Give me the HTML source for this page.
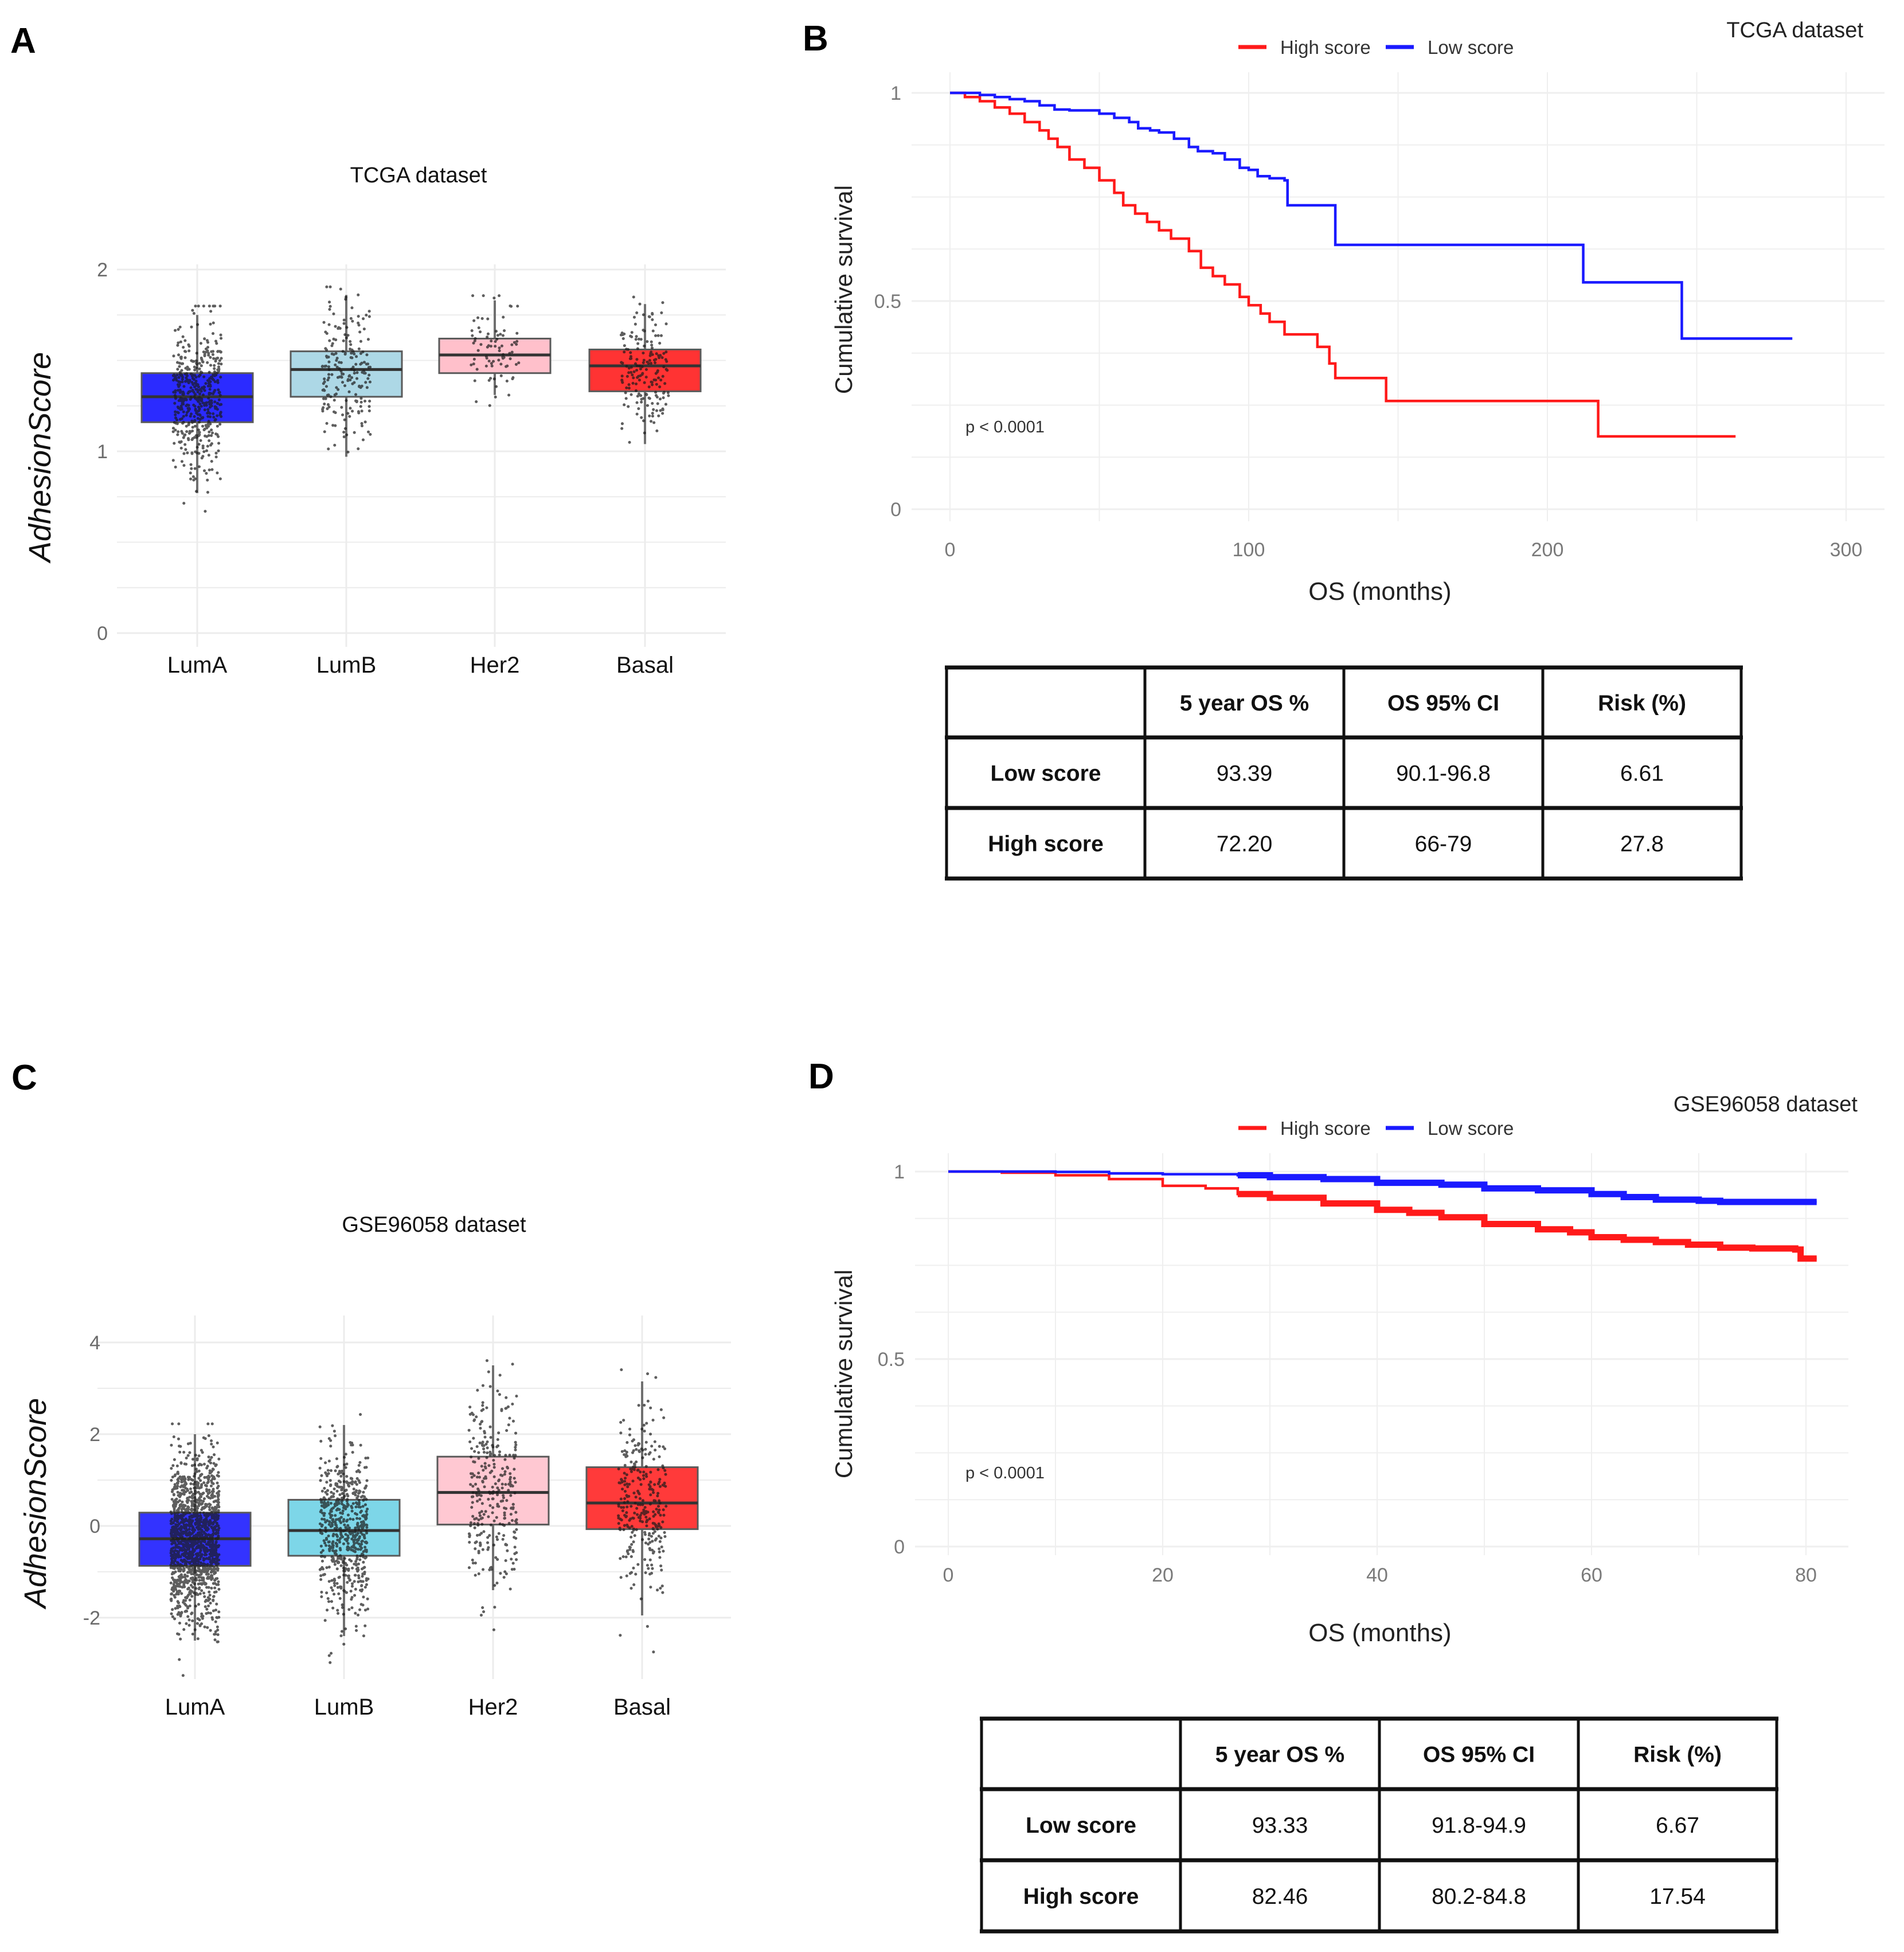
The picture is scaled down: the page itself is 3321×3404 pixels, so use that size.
<!DOCTYPE html>
<html><head><meta charset="utf-8">
<style>
html,body{margin:0;padding:0;background:#fff;}
svg{display:block;font-family:"Liberation Sans",sans-serif;}
</style></head>
<body>
<svg id="fig" xmlns="http://www.w3.org/2000/svg" width="3321" height="3404" viewBox="0 0 3321 3404">
<rect x="0" y="0" width="3321" height="3404" fill="#fff"/>
<text x="18" y="92" font-size="62" font-weight="bold">A</text>
<text x="1400" y="88" font-size="62" font-weight="bold">B</text>
<text x="20" y="1900" font-size="62" font-weight="bold">C</text>
<text x="1410" y="1898" font-size="62" font-weight="bold">D</text>
<g id="gA"></g>
<g id="gC"></g>
<g id="gB"></g>
<g id="gD"></g>
<g id="tB"></g>
<g id="tD"></g>
</svg>
<script>
// ---- Panel A data (TCGA boxplot)
const catsA = ["LumA","LumB","Her2","Basal"];
const q1A = [1.16,1.30,1.43,1.33];
const medA = [1.30,1.45,1.53,1.47];
const q3A = [1.43,1.55,1.62,1.56];
const loA = [0.77,0.97,1.31,1.04];
const hiA = [1.75,1.86,1.83,1.81];
const nA = [500,200,80,180];
const yTicksA = [0,1,2];
// ---- Panel C data (GSE96058 boxplot)
const catsC = ["LumA","LumB","Her2","Basal"];
const q1C = [-0.87,-0.65,0.03,-0.07];
const medC = [-0.28,-0.10,0.73,0.50];
const q3C = [0.29,0.57,1.51,1.28];
const loC = [-2.5,-2.4,-1.4,-1.95];
const hiC = [2.0,2.2,3.5,3.15];
const nC = [1400,600,300,300];
const yTicksC = [-2,0,2,4];
// ---- Panel B data (TCGA KM)
const timeHighB = [0,5,10,15,20,25,30,33,36,40,45,50,55,58,62,66,70,74,80,84,88,92,97,100,104,107,112,118,123,127,129,146,217];
const survHighB = [1,0.99,0.98,0.965,0.95,0.93,0.91,0.89,0.87,0.84,0.82,0.79,0.76,0.73,0.71,0.69,0.67,0.65,0.62,0.58,0.56,0.54,0.51,0.49,0.47,0.45,0.42,0.42,0.39,0.35,0.315,0.26,0.175];
const endHighB = 263;
const timeLowB = [0,10,15,20,25,30,35,40,50,55,60,63,67,70,75,80,83,88,92,97,100,103,107,112,113,129,212,245];
const survLowB = [1,0.995,0.99,0.985,0.98,0.97,0.96,0.958,0.95,0.94,0.93,0.915,0.91,0.905,0.89,0.87,0.86,0.855,0.84,0.82,0.815,0.80,0.795,0.79,0.73,0.635,0.545,0.41];
const endLowB = 282;
const xTicksB = [0,100,200,300];
const yTicksB = [0,0.5,1];
// ---- Panel D data (GSE96058 KM)
const timeHighD = [0,5,10,15,20,24,27,30,35,40,43,46,50,55,58,60,63,66,69,72,75,79,79.5];
const survHighD = [1,0.997,0.99,0.98,0.962,0.955,0.94,0.93,0.915,0.898,0.89,0.878,0.86,0.846,0.838,0.825,0.818,0.812,0.805,0.797,0.795,0.792,0.768];
const endHighD = 81;
const timeLowD = [0,10,15,20,27,30,35,40,46,50,55,60,63,66,70,72];
const survLowD = [1,0.999,0.995,0.993,0.99,0.985,0.98,0.97,0.965,0.955,0.95,0.94,0.932,0.925,0.922,0.919];
const endLowD = 81;
const censorStartD = 27;
const xTicksD = [0,20,40,60,80];
const yTicksD = [0,0.5,1];
// ---- Tables
const tableHeader = ["","5 year OS %","OS 95% CI","Risk (%)"];
const rowNames = ["Low score","High score"];
const tableB = [["93.39","90.1-96.8","6.61"],["72.20","66-79","27.8"]];
const tableD = [["93.33","91.8-94.9","6.67"],["82.46","80.2-84.8","17.54"]];

const NS="http://www.w3.org/2000/svg";
function mk(parent,tag,attrs,text){const e=document.createElementNS(NS,tag);for(const k in attrs)e.setAttribute(k,attrs[k]);if(text!==undefined)e.textContent=text;parent.appendChild(e);return e;}

// seeded jitter generator (visual texture only)
function rng(seed){return function(){seed|=0;seed=seed+0x6D2B79F5|0;let t=Math.imul(seed^seed>>>15,1|seed);t=t+Math.imul(t^t>>>7,61|t)^t;return((t^t>>>14)>>>0)/4294967296;};}

function boxPlot(g,o){
  const y=v=>o.y0-o.ppu*v;
  for(let v=o.gmin;v<=o.gmax+1e-9;v+=o.gstep){
    const major=o.ticks.some(t=>Math.abs(t-v)<1e-9);
    const l=mk(g,'line',{x1:o.left,x2:o.right,y1:y(v),y2:y(v),stroke:'#ececec','stroke-width':major?3:2});
    
    
  }
  o.cats.forEach((c,i)=>{
    const l=mk(g,'line',{x1:o.cx[i],x2:o.cx[i],y1:o.top,y2:o.bottom,stroke:'#ececec','stroke-width':3});
    
    
  });
  o.ticks.forEach(t=>{
    const e=mk(g,'text',{x:o.tickX,y:y(t)+12,'font-size':34,fill:'#6b6b6b','text-anchor':'end'},String(t));
    
    
  });
  const R=rng(o.seed);
  o.cats.forEach((c,i)=>{
    const cx=o.cx[i];
    const w=mk(g,'line',{x1:cx,x2:cx,y1:y(o.hi[i]),y2:y(o.lo[i]),stroke:'#707070','stroke-width':4});
    
    
    const b=mk(g,'rect',{x:cx-o.hw,y:y(o.q3[i]),width:2*o.hw,height:y(o.q1[i])-y(o.q3[i]),fill:o.colors[i],stroke:'#5a5a5a','stroke-width':3});
    
    
    const m=mk(g,'line',{x1:cx-o.hw,x2:cx+o.hw,y1:y(o.med[i]),y2:y(o.med[i]),stroke:'#333','stroke-width':5});
    
    
    const sd=(o.q3[i]-o.q1[i])/1.35;
    let d='';
    for(let k=0;k<o.n[i];k++){
      let u=Math.max(1e-6,R()),v2=R();
      let z=Math.sqrt(-2*Math.log(u))*Math.cos(2*Math.PI*v2);
      let val=o.med[i]+z*sd;
      val=Math.min(o.hi[i]+0.05*(o.hi[i]-o.lo[i]),Math.max(o.lo[i]-(o.hi[i]-o.lo[i])*0.3,val));
      const px=cx+(R()*2-1)*o.jit, py=y(val);
      d+='M'+px.toFixed(1)+' '+py.toFixed(1)+'h0.1';
    }
    const p=mk(g,'path',{d:d,stroke:'#1a1a1a','stroke-width':5,'stroke-linecap':'round',fill:'none',opacity:0.7});
    
    
    const t=mk(g,'text',{x:cx,y:o.catY,'font-size':40,'text-anchor':'middle',fill:'#111'},c);
    
    
  });
  const tt=mk(g,'text',{x:o.titleX,y:o.titleY,'font-size':38,'text-anchor':'middle',fill:'#111'},o.title);
  
  
  const yt=mk(g,'text',{x:0,y:0,'font-size':54,'font-style':'italic','text-anchor':'middle',fill:'#111',transform:'translate('+(o.ytX)+','+o.ytY+') rotate(-90)'},'AdhesionScore');
  
  
}

boxPlot(document.getElementById('gA'),{cats:catsA,q1:q1A,med:medA,q3:q3A,lo:loA,hi:hiA,n:nA,ticks:yTicksA,
  y0:1104,ppu:317,gmin:0,gmax:2,gstep:0.25,left:204,right:1266,top:461,bottom:1128,cx:[344,604,863,1125],hw:97,jit:42,
  colors:['#2b2bff','#add8e6','#ffc0cb','#ff3333'],tickX:188,catY:1173,title:'TCGA dataset',titleX:730,titleY:318,ytX:88,ytY:797,seed:7});
boxPlot(document.getElementById('gC'),{cats:catsC,q1:q1C,med:medC,q3:q3C,lo:loC,hi:hiC,n:nC,ticks:yTicksC,
  y0:2661,ppu:80,gmin:-2,gmax:4,gstep:1,left:170,right:1275,top:2294,bottom:2928,cx:[340,600,860,1120],hw:97,jit:42,
  colors:['#3333ff','#7dd6e8','#ffc8d2','#ff3a3a'],tickX:175,catY:2990,title:'GSE96058 dataset',titleX:757,titleY:2148,ytX:80,ytY:2621,seed:11});

function km(g,o){
  const x=t=>o.x0+o.ppx*t, y=s=>o.y0-o.ppy*s;
  for(let v=0;v<=1.0001;v+=0.125){
    const l=mk(g,'line',{x1:o.left,x2:o.right,y1:y(v),y2:y(v),stroke:'#efefef','stroke-width':(Math.abs(v*2-Math.round(v*2))<1e-9)?3:2});
    
    
  }
  for(let t=0;t<=o.xmaxGrid+1e-9;t+=o.vstep){
    const l=mk(g,'line',{x1:x(t),x2:x(t),y1:o.top,y2:o.bottom,stroke:'#efefef','stroke-width':2});
    
    
  }
  o.yt.forEach(v=>{
    const e=mk(g,'text',{x:o.left-18,y:y(v)+12,'font-size':34,fill:'#7a7a7a','text-anchor':'end'},String(v));
    
    
  });
  o.xt.forEach(v=>{
    const e=mk(g,'text',{x:x(v),y:o.xtY,'font-size':34,fill:'#7a7a7a','text-anchor':'middle'},String(v));
    
    
  });
  function path(ts,ss,end,from){
    let d='',started=false;
    for(let i=0;i<ts.length;i++){
      if(ts[i]<from&&!(i+1<ts.length&&ts[i+1]>from))continue;
      const tt=Math.max(ts[i],from);
      if(!started){d='M'+x(tt)+' '+y(ss[i]);started=true;}
      else d+=' H'+x(ts[i])+' V'+y(ss[i]);
    }
    d+=' H'+x(end);return d;
  }
  o.series.forEach(s=>{
    const p=mk(g,'path',{d:path(s.t,s.s,s.end,0),stroke:s.color,'stroke-width':o.sw,fill:'none'});
    
    
    if(o.censor!==undefined){
      const c=mk(g,'path',{d:path(s.t,s.s,s.end,o.censor),stroke:s.color,'stroke-width':11,fill:'none'});
      
      
    }
  });
  const items=[['High score','#ff1a1a',2160],['Low score','#1a1aff',2417]];
  items.forEach(it=>{
    const l=mk(g,'line',{x1:it[2],x2:it[2]+49,y1:o.legY,y2:o.legY,stroke:it[1],'stroke-width':7});
    
    
    const t=mk(g,'text',{x:it[2]+73,y:o.legY+12,'font-size':33,fill:'#333'},it[0]);
    
    
  });
  const tt=mk(g,'text',{x:o.titleR,y:o.titleY,'font-size':38,'text-anchor':'end',fill:'#222'},o.title);
  
  
  const pv=mk(g,'text',{x:1684,y:o.pY,'font-size':29,fill:'#333'},'p < 0.0001');
  
  
  const xt=mk(g,'text',{x:2407,y:o.xTitleY,'font-size':44,'text-anchor':'middle',fill:'#222'},'OS (months)');
  
  
  const yt=mk(g,'text',{x:0,y:0,'font-size':42,'text-anchor':'middle',fill:'#222',transform:'translate(1486,'+o.ytY+') rotate(-90)'},'Cumulative survival');
  
  
}
km(document.getElementById('gB'),{x0:1657,ppx:5.21,y0:888,ppy:726,left:1590,right:3287,top:126,bottom:909,xmaxGrid:310,vstep:50,
  xt:xTicksB,yt:yTicksB,xtY:970,sw:4.5,legY:82,titleR:3250,titleY:65,title:'TCGA dataset',pY:754,xTitleY:1046,ytY:505,
  series:[{key:'high-score',t:timeHighB,s:survHighB,end:endHighB,color:'#ff1a1a'},{key:'low-score',t:timeLowB,s:survLowB,end:endLowB,color:'#1a1aff'}]});
km(document.getElementById('gD'),{x0:1654,ppx:18.7,y0:2697,ppy:654,left:1596,right:3224,top:2011,bottom:2712,xmaxGrid:85,vstep:10,
  xt:xTicksD,yt:yTicksD,xtY:2758,sw:4.5,legY:1967,titleR:3240,titleY:1938,title:'GSE96058 dataset',pY:2578,xTitleY:2862,ytY:2396,censor:censorStartD,
  series:[{key:'high-score',t:timeHighD,s:survHighD,end:endHighD,color:'#ff1a1a'},{key:'low-score',t:timeLowD,s:survLowD,end:endLowD,color:'#1a1aff'}]});

function table(g,o){
  const rows=[tableHeader].concat(rowNames.map((r,i)=>[r].concat(o.data[i])));
  rows.forEach((row,ri)=>{
    row.forEach((cell,ci)=>{
      const cx=(o.cols[ci]+o.cols[ci+1])/2, cy=(o.rows[ri]+o.rows[ri+1])/2+14;
      const bold=(ri===0||ci===0);
      const t=mk(g,'text',{x:cx,y:cy,'font-size':39,'font-weight':bold?'bold':'normal','text-anchor':'middle',fill:'#111'},cell);
      
      
    });
  });
  o.rows.forEach(yv=>{
    const l=mk(g,'line',{x1:o.cols[0]-3,x2:o.cols[4]+3,y1:yv,y2:yv,stroke:'#111','stroke-width':7});
    
    
  });
  o.cols.forEach(xv=>{
    const l=mk(g,'line',{x1:xv,x2:xv,y1:o.rows[0],y2:o.rows[3],stroke:'#111','stroke-width':5});
    
    
  });
}
table(document.getElementById('tB'),{data:tableB,cols:[1651,1997,2344,2691,3037],rows:[1164,1286,1409,1532]});
table(document.getElementById('tD'),{data:tableD,cols:[1712,2059,2406,2753,3099],rows:[2997,3120,3244,3368]});
</script>
</body></html>
